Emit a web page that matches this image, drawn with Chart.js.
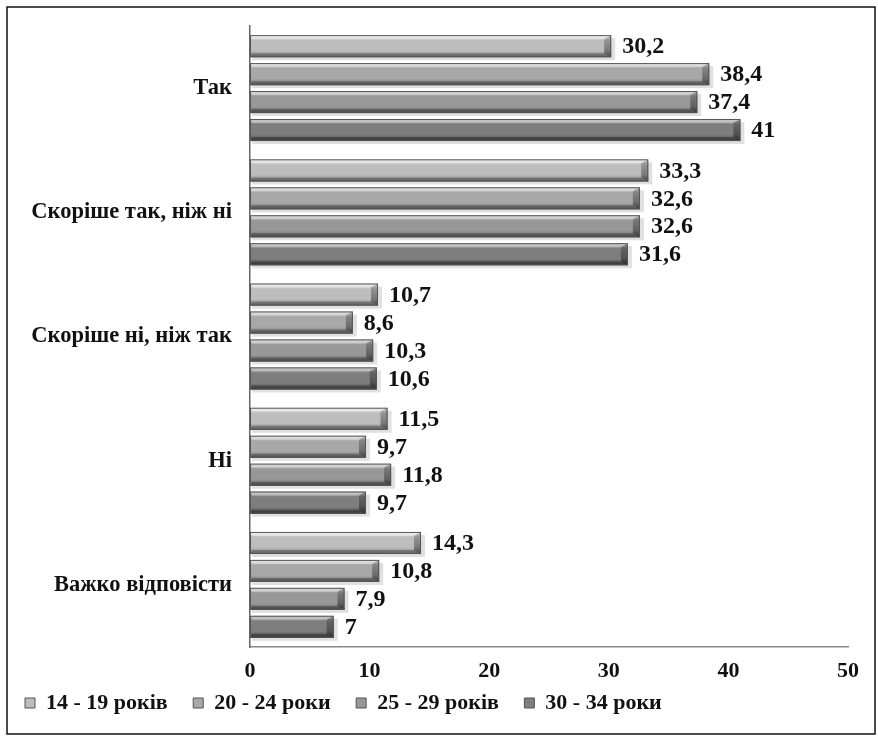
<!DOCTYPE html>
<html>
<head>
<meta charset="utf-8">
<script src="https://cdn.jsdelivr.net/npm/chart.js@4.4.1/dist/chart.umd.min.js"></script>
<style>
html,body{margin:0;padding:0;background:#fff;}
#wrap{width:878px;height:740px;position:relative;}
</style>
</head>
<body>
<div id="wrap"><canvas id="c"></canvas></div>
<script>
const categories = ['Так', 'Скоріше так, ніж ні', 'Скоріше ні, ніж так', 'Ні', 'Важко відповісти'];
const seriesNames = ['14 - 19 років', '20 - 24 роки', '25 - 29 років', '30 - 34 роки'];
const s1419 = [30.2, 33.3, 10.7, 11.5, 14.3];
const s2024 = [38.4, 32.6, 8.6, 9.7, 10.8];
const s2529 = [37.4, 32.6, 10.3, 11.8, 7.9];
const s3034 = [41, 31.6, 10.6, 9.7, 7];
const xTicks = [0, 10, 20, 30, 40, 50];

const midColors = ['#bdbdbd', '#a8a8a8', '#989898', '#7e7e7e'];
const topColors = ['#ececec', '#dcdcdc', '#cfcfcf', '#b4b4b4'];
const botColors = ['#7e7e7e', '#6c6c6c', '#5e5e5e', '#484848'];

const FONT = '"Liberation Serif", "Times New Roman", serif';

const frame = {
  id: 'frame',
  beforeDraw(chart) {
    const ctx = chart.ctx;
    ctx.save();
    ctx.fillStyle = '#ffffff';
    ctx.fillRect(0, 0, chart.width, chart.height);
    ctx.strokeStyle = '#111';
    ctx.lineWidth = 1.5;
    ctx.strokeRect(7, 7, 868, 727);
    ctx.restore();
  }
};

const bevel = {
  id: 'bevel',
  beforeDatasetsDraw(chart) {
    const ctx = chart.ctx;
    ctx.save();
    chart.data.datasets.forEach((ds, di) => {
      chart.getDatasetMeta(di).data.forEach(el => {
        const t = el.y - el.height / 2, b = el.y + el.height / 2;
        const l = el.base, r = el.x;
        ctx.fillStyle = 'rgba(0,0,0,0.12)';
        ctx.fillRect(l + 2, t + 3, r - l + 2, b - t);
      });
    });
    ctx.restore();
  },
  afterDatasetsDraw(chart) {
    const ctx = chart.ctx;
    ctx.save();
    chart.data.datasets.forEach((ds, di) => {
      chart.getDatasetMeta(di).data.forEach((el, idx) => {
        const t = el.y - el.height / 2, b = el.y + el.height / 2;
        const l = el.base, r = el.x;
        const h = b - t;
        const g = ctx.createLinearGradient(0, t, 0, b);
        g.addColorStop(0, topColors[di]);
        g.addColorStop(0.25, midColors[di]);
        g.addColorStop(0.7, midColors[di]);
        g.addColorStop(1, botColors[di]);
        ctx.fillStyle = g;
        ctx.fillRect(l, t, r - l, h);
        const bv = Math.min(7, (r - l) / 3);
        ctx.fillStyle = 'rgba(255,255,255,0.35)';
        ctx.beginPath();
        ctx.moveTo(l, t); ctx.lineTo(r, t); ctx.lineTo(r - bv, t + 4); ctx.lineTo(l + 2, t + 4); ctx.closePath();
        ctx.fill();
        ctx.fillStyle = 'rgba(0,0,0,0.25)';
        ctx.beginPath();
        ctx.moveTo(l, b); ctx.lineTo(r, b); ctx.lineTo(r - bv, b - 4); ctx.lineTo(l + 2, b - 4); ctx.closePath();
        ctx.fill();
        const gr = ctx.createLinearGradient(0, t, 0, b);
        gr.addColorStop(0, 'rgba(0,0,0,0.15)');
        gr.addColorStop(1, 'rgba(0,0,0,0.45)');
        ctx.fillStyle = gr;
        ctx.beginPath();
        ctx.moveTo(r - bv, t + 4); ctx.lineTo(r, t); ctx.lineTo(r, b); ctx.lineTo(r - bv, b - 4); ctx.closePath();
        ctx.fill();
        ctx.strokeStyle = '#555';
        ctx.lineWidth = 1;
        ctx.strokeRect(l + 0.5, t + 0.5, r - l - 1, h - 1);
        const v = ds.data[idx];
        ctx.fillStyle = '#111';
        ctx.font = 'bold 24px ' + FONT;
        ctx.textAlign = 'left';
        ctx.textBaseline = 'middle';
        ctx.fillText(String(v).replace('.', ','), r + 11, el.y + 1);
      });
    });
    ctx.restore();
  }
};

const datasets = [s1419, s2024, s2529, s3034].map((d, i) => ({
  label: seriesNames[i],
  data: d,
  backgroundColor: midColors[i],
  borderColor: '#555',
  borderWidth: 1,
  categoryPercentage: 0.9,
  barPercentage: 0.79
}));

new Chart(document.getElementById('c'), {
  type: 'bar',
  data: { labels: categories, datasets },
  plugins: [frame, bevel],
  options: {
    indexAxis: 'y',
    responsive: true,
    maintainAspectRatio: false,
    animation: false,
    devicePixelRatio: 1,
    layout: { padding: { top: 26, right: 30, left: 5, bottom: 16 } },
    plugins: {
      legend: {
        position: 'bottom',
        align: 'start',
        labels: {
          color: '#111',
          font: { family: FONT, size: 22, weight: 'bold' },
          boxWidth: 10,
          boxHeight: 10,
          padding: 20,
          generateLabels(chart) {
            const items = Chart.defaults.plugins.legend.labels.generateLabels(chart);
            items.forEach(it => { it.text = it.text + ' '; it.strokeStyle = '#555'; it.lineWidth = 1; });
            return items;
          }
        }
      },
      tooltip: { enabled: false }
    },
    scales: {
      x: {
        min: 0, max: 50,
        afterBuildTicks(scale) { scale.ticks = xTicks.map(v => ({ value: v })); },
        grid: { display: false, drawTicks: true, tickLength: 75 },
        border: { display: true, color: '#888', width: 1.5 },
        ticks: {
          color: '#111',
          padding: -25,
          mirror: true,
          autoSkip: false,
          font: { family: FONT, size: 22, weight: 'bold', lineHeight: 0.05 }
        }
      },
      y: {
        grid: { display: false, drawTicks: false },
        border: { display: true, color: '#666', width: 1.5 },
        afterFit(scale) { scale.width = 245; scale.paddingTop = 0; scale.paddingBottom = 0; },
        ticks: {
          color: '#111',
          padding: 18,
          font: { family: FONT, size: 22.5, weight: 'bold' }
        }
      }
    }
  }
});
</script>
</body>
</html>
